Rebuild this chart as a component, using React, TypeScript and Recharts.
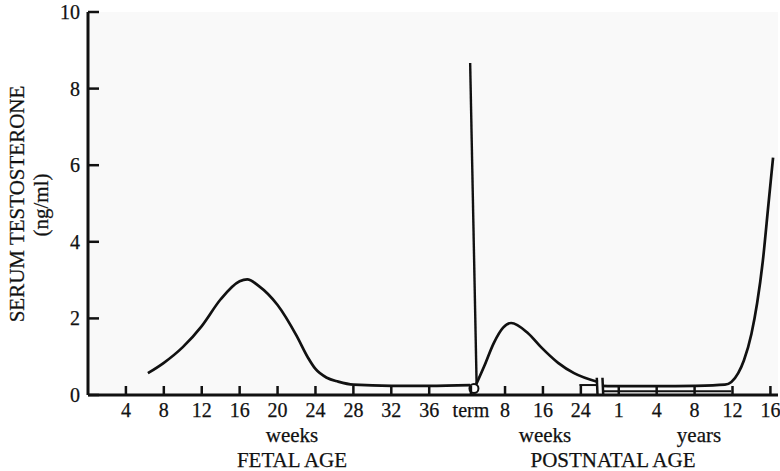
import React from 'react';
import { LineChart, Line, XAxis, YAxis, CartesianGrid, ReferenceLine, ReferenceDot, Label } from 'recharts';

// Axis positions (index units) and their labels
const tickPositions = [1, 2, 3, 4, 5, 6, 7, 8, 9, 10.1, 11, 12, 13, 14, 15, 16, 17, 18];
const tickLabels = ['4', '8', '12', '16', '20', '24', '28', '32', '36', 'term', '8', '16', '24', '1', '4', '8', '12', '16'];
const yTicks = [0, 2, 4, 6, 8, 10];

// Fetal curve
const fetalX = [1.58, 2.0, 2.5, 3.0, 3.5, 4.0, 4.2, 4.5, 5.0, 5.5, 5.8, 6.0, 6.3, 6.6, 7.0, 8.0, 9.0, 10.08];
const fetalY = [0.57, 0.84, 1.25, 1.8, 2.5, 2.97, 3.02, 2.85, 2.35, 1.55, 0.98, 0.68, 0.45, 0.35, 0.27, 0.24, 0.24, 0.26];

// Spike at term
const spikeX = [10.08, 10.25];
const spikeY = [8.67, 0.3];

// Postnatal weeks
const pnX = [10.24, 10.45, 10.7, 10.95, 11.16, 11.6, 11.95, 12.4, 12.82, 13.45];
const pnY = [0.28, 0.75, 1.35, 1.76, 1.88, 1.62, 1.25, 0.84, 0.57, 0.34];

// Postnatal years
const yrX = [13.58, 14, 15, 16, 16.8, 16.97, 17.15, 17.3, 17.5, 17.65, 17.8, 17.95, 18.07];
const yrY = [0.24, 0.23, 0.23, 0.24, 0.27, 0.34, 0.57, 0.9, 1.6, 2.4, 3.5, 5.0, 6.2];

// Lower band lines
const bandX = [13.58, 16.97];
const bandY = [0.1, 0.1];
const wkBandX = [12.96, 13.42];
const wkBandY = [0.26, 0.26];

const zip = (xs: number[], ys: number[]) => xs.map((x, i) => ({ x, v: ys[i] }));

const fetal = zip(fetalX, fetalY);
const spike = zip(spikeX, spikeY);
const postnatal = zip(pnX, pnY);
const years = zip(yrX, yrY);
const band = zip(bandX, bandY);
const wkBand = zip(wkBandX, wkBandY);

const FONT = '"Liberation Serif", "Times New Roman", serif';
const INK = '#111';

const XTick = (props: any) => {
  const { x, y, payload } = props;
  const i = tickPositions.indexOf(payload.value);
  return (
    <g>
      <line x1={x} x2={x} y1={y} y2={y - 9} stroke={INK} strokeWidth={2.5} />
      <text x={x} y={y + 22} textAnchor="middle" fontFamily={FONT} fontSize={20} fill={INK} stroke={INK} strokeWidth={0.25}>
        {tickLabels[i]}
      </text>
    </g>
  );
};

const YTick = (props: any) => {
  const { x, y, payload } = props;
  return (
    <g>
      <line x1={x} x2={x + 11} y1={y} y2={y} stroke={INK} strokeWidth={2.5} />
      <text x={x - 8} y={y + 7} textAnchor="end" fontFamily={FONT} fontSize={20} fill={INK} stroke={INK} strokeWidth={0.25}>
        {payload.value}
      </text>
    </g>
  );
};

const XLabels = () => (
  <g fontFamily={FONT} fill={INK} stroke={INK} strokeWidth={0.25}>
    <text x={292} y={442} textAnchor="middle" fontSize={21}>weeks</text>
    <text x={292} y={467} textAnchor="middle" fontSize={21}>FETAL AGE</text>
    <text x={545} y={442} textAnchor="middle" fontSize={21}>weeks</text>
    <text x={699} y={442} textAnchor="middle" fontSize={21}>years</text>
    <text x={613} y={467} textAnchor="middle" fontSize={21}>POSTNATAL AGE</text>
  </g>
);

const YLabels = () => (
  <g fontFamily={FONT} fill={INK} stroke={INK} strokeWidth={0.25}>
    <text x={24} y={204} transform="rotate(-90 24 204)" textAnchor="middle" fontSize={21}>SERUM TESTOSTERONE</text>
    <text x={48} y={205} transform="rotate(-90 48 205)" textAnchor="middle" fontSize={21}>(ng/ml)</text>
  </g>
);

const lineProps = {
  dataKey: 'v',
  stroke: INK,
  strokeWidth: 2.7,
  dot: false,
  activeDot: false,
  isAnimationActive: false,
  legendType: 'none' as const,
};

export default function App() {
  return (
    <div style={{ position: 'absolute', left: 0, top: 0, background: '#fff' }}>
      <LineChart width={780} height={471} margin={{ top: 12, right: 2, left: 0, bottom: 0 }}>
        <CartesianGrid fill="#f9f9f9" stroke="none" horizontal={false} vertical={false} />
        <XAxis
          type="number"
          dataKey="x"
          domain={[0, 18.2]}
          allowDataOverflow
          ticks={tickPositions}
          interval={0}
          height={76}
          tickSize={0}
          tickMargin={0}
          tickLine={false}
          tick={<XTick />}
          axisLine={{ stroke: INK, strokeWidth: 3 }}
        >
          <Label content={<XLabels />} />
        </XAxis>
        <YAxis
          type="number"
          domain={[0, 10]}
          ticks={yTicks}
          interval={0}
          width={88}
          tickSize={0}
          tickMargin={0}
          tickLine={false}
          tick={<YTick />}
          axisLine={{ stroke: INK, strokeWidth: 3 }}
        >
          <Label content={<YLabels />} />
        </YAxis>
        <Line {...lineProps} data={fetal} type="monotone" />
        <Line {...lineProps} data={spike} type="linear" strokeWidth={2.4} />
        <Line {...lineProps} data={postnatal} type="monotone" />
        <Line {...lineProps} data={years} type="monotone" />
        <Line {...lineProps} data={band} type="linear" strokeWidth={2} />
        <Line {...lineProps} data={wkBand} type="linear" strokeWidth={2} />
        <ReferenceLine segment={[{ x: 13.42, y: 0.45 }, { x: 13.44, y: 0 }]} stroke={INK} strokeWidth={2.5} />
        <ReferenceLine segment={[{ x: 13.57, y: 0.45 }, { x: 13.59, y: 0 }]} stroke={INK} strokeWidth={2.5} />
        <ReferenceDot x={10.18} y={0.17} r={4.5} fill="#fff" stroke={INK} strokeWidth={2} />
      </LineChart>
    </div>
  );
}
